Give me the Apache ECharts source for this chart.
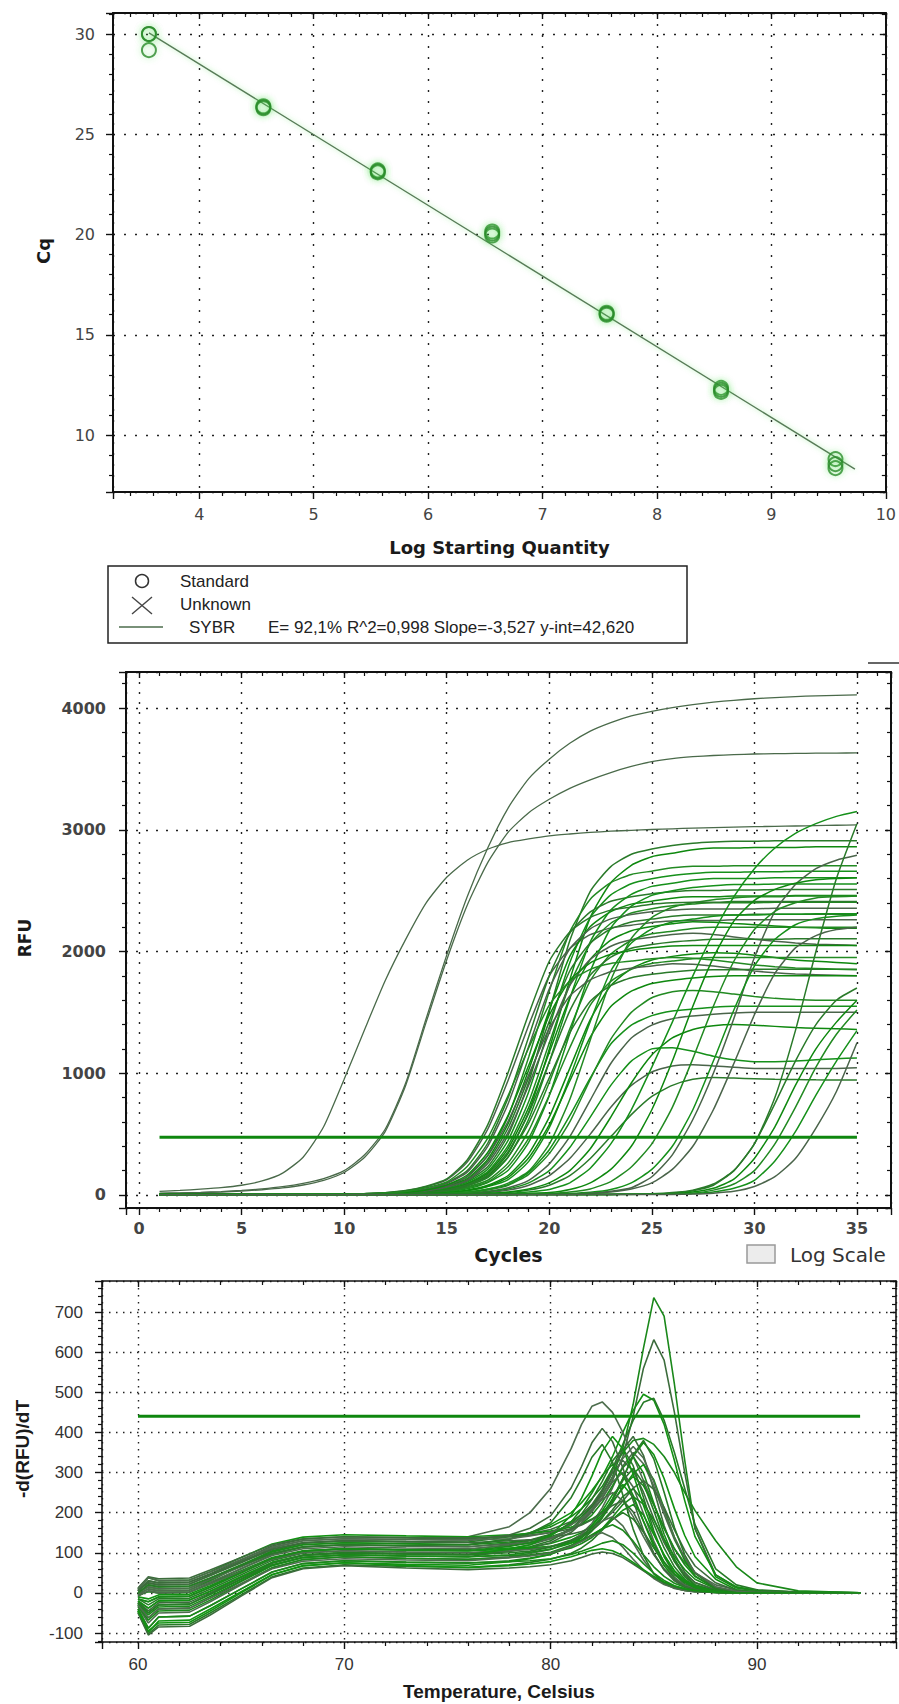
<!DOCTYPE html>
<html><head><meta charset="utf-8">
<script src="https://cdn.jsdelivr.net/npm/echarts@6/dist/echarts.min.js"></script>
<style>html,body{margin:0;padding:0;background:#fff}#c{width:899px;height:1704px}</style>
</head><body><div id="c"></div>
<script>
// ---------- Standard curve ----------
const logQty = [3.56, 4.56, 5.56, 6.56, 7.56, 8.56, 9.56];
const cqRep1 = [30.0, 26.4, 23.2, 20.15, 16.1, 12.35, 8.8];
const cqRep2 = [29.2, 26.3, 23.1, 19.95, 16.0, 12.15, 8.35];
const cqRep3 = [30.0, 26.35, 23.15, 20.05, 16.05, 12.25, 8.55];
const fitX = [3.56, 9.73];
const fitCq = [30.06, 8.30];
const legendTexts = ['Standard', 'Unknown', 'SYBR', 'E= 92,1% R^2=0,998 Slope=-3,527 y-int=42,620'];
const axisTitles = ['Log Starting Quantity', 'Cq', 'Cycles', 'RFU', 'Temperature, Celsius', '-d(RFU)/dT'];

// ---------- Amplification ----------
const cycles = [1,2,3,4,5,6,7,8,9,10,11,12,13,14,15,16,17,18,19,20,21,22,23,24,25,26,27,28,29,30,31,32,33,34,35];
const rfuA = [30,38,48,60,80,115,180,310,560,950,1360,1760,2100,2400,2610,2750,2840,2895,2925,2950,2965,2978,2988,2995,3002,3008,3013,3017,3021,3025,3028,3031,3034,3037,3040];
const rfuB = [15,18,22,28,38,50,68,95,135,200,330,540,920,1450,1970,2450,2850,3180,3420,3580,3710,3810,3880,3935,3972,4003,4028,4048,4063,4076,4086,4094,4100,4104,4107];
const rfuC = [12,15,19,24,32,43,58,82,120,185,310,520,900,1420,1930,2380,2730,2980,3140,3250,3340,3410,3470,3520,3560,3585,3600,3610,3617,3622,3625,3627,3629,3630,3631];
const rfuM01 = [5,5,5,6,6,6,7,7,8,9,10,12,17,29,58,116,232,493,928,1508,2088,2494,2697,2799,2842,2871,2890,2900,2905,2905,2910,2910,2910,2910,2910];
const rfuM02 = [4,4,5,5,5,6,6,7,8,9,10,12,14,23,43,86,157,342,684,1197,1767,2280,2565,2708,2779,2807,2836,2850,2850,2855,2855,2855,2860,2860,2860];
const rfuM03 = [3,3,4,4,5,5,6,7,8,9,11,14,22,41,81,149,324,648,1134,1674,2160,2430,2565,2633,2660,2687,2700,2700,2705,2705,2705,2705,2705,2705,2705];
const rfuM04 = [6,6,6,7,7,7,8,8,9,10,11,13,16,27,53,106,212,451,848,1378,1908,2279,2465,2557,2597,2624,2640,2650,2650,2655,2655,2660,2660,2660,2660];
const rfuM05 = [4,4,4,5,5,5,6,7,8,9,11,18,34,68,124,270,540,945,1395,1800,2025,2138,2194,2216,2239,2250,2255,2255,2260,2260,2260,2260,2260,2260,2260];
const rfuM06 = [2,2,3,3,4,4,5,6,7,8,10,15,25,50,100,200,425,800,1300,1800,2150,2325,2413,2450,2475,2490,2500,2500,2505,2505,2510,2510,2510,2510,2510];
const rfuM07 = [5,5,5,6,6,6,7,7,8,9,10,12,20,37,74,135,294,588,1029,1519,1960,2205,2328,2389,2413,2438,2450,2450,2455,2455,2455,2460,2460,2460,2460];
const rfuM08 = [3,3,3,4,4,5,5,6,7,8,9,11,14,24,48,96,192,408,768,1248,1728,2064,2232,2316,2352,2376,2390,2400,2400,2400,2405,2405,2405,2405,2405];
const rfuM09 = [4,4,4,5,5,5,6,6,7,8,9,11,13,21,39,78,143,312,624,1092,1612,2080,2340,2470,2535,2561,2587,2600,2600,2600,2605,2605,2605,2605,2605];
const rfuM10 = [6,6,6,6,7,7,7,8,8,9,10,14,24,47,94,188,400,752,1222,1692,2021,2186,2268,2303,2327,2340,2350,2350,2350,2350,2355,2355,2355,2355,2355];
const rfuM11 = [2,2,2,3,3,4,4,5,6,7,9,12,18,35,69,127,276,552,966,1426,1840,2070,2185,2243,2266,2289,2300,2300,2300,2305,2305,2305,2305,2305,2305];
const rfuM12 = [5,5,5,5,6,6,6,7,8,9,10,12,14,23,45,90,180,383,720,1170,1620,1935,2093,2171,2205,2228,2245,2240,2230,2220,2210,2200,2195,2190,2190];
const rfuM13 = [3,3,3,4,4,4,5,5,6,7,8,9,11,18,33,66,121,264,528,924,1364,1760,1980,2090,2145,2167,2189,2200,2200,2200,2200,2200,2200,2200,2200];
const rfuM14 = [4,4,4,5,5,5,6,6,7,7,8,9,10,15,26,51,102,204,434,816,1326,1836,2193,2372,2461,2499,2525,2540,2550,2550,2555,2555,2555,2555,2555];
const rfuM15 = [3,3,3,4,4,4,5,6,7,8,9,11,17,32,65,118,258,516,903,1333,1720,1935,2043,2096,2118,2139,2150,2140,2120,2100,2085,2070,2060,2055,2050];
const rfuM16 = [5,5,5,5,6,6,6,7,7,8,9,11,13,21,42,84,168,357,672,1092,1512,1806,1953,2027,2058,2079,2090,2100,2100,2100,2100,2105,2105,2105,2105];
const rfuM17 = [4,4,4,4,5,5,5,6,6,7,8,9,10,12,20,40,80,160,340,640,1040,1440,1720,1860,1930,1960,1980,1990,1985,1970,1950,1930,1920,1910,1900];
const rfuM18 = [2,2,2,3,3,3,4,4,5,6,7,8,10,16,29,59,107,234,468,819,1209,1560,1755,1853,1901,1921,1940,1950,1950,1950,1950,1950,1950,1950,1950];
const rfuM19 = [4,4,4,4,5,5,5,6,6,7,7,8,10,12,18,35,69,127,276,552,966,1426,1840,2070,2185,2243,2266,2289,2300,2300,2305,2305,2310,2310,2310];
const rfuM20 = [3,3,3,4,4,4,5,5,6,7,8,11,19,38,76,152,323,608,988,1368,1634,1767,1834,1862,1881,1900,1895,1880,1860,1840,1825,1815,1810,1805,1800];
const rfuM21 = [4,4,4,5,5,5,6,6,7,8,9,10,11,19,37,74,148,315,592,962,1332,1591,1721,1785,1813,1832,1845,1850,1850,1855,1855,1855,1855,1855,1855];
const rfuM22 = [3,3,3,3,4,4,4,5,5,6,7,8,9,11,18,36,72,144,306,576,936,1296,1548,1674,1737,1764,1782,1795,1800,1800,1800,1800,1800,1800,1800];
const rfuM23 = [3,3,3,4,4,4,5,5,6,6,7,8,9,10,15,25,49,98,196,417,784,1274,1764,2107,2279,2364,2401,2426,2440,2450,2450,2455,2455,2455,2455];
const rfuM24 = [2,2,2,3,3,3,3,4,4,5,5,6,7,8,12,23,47,85,186,372,651,961,1240,1395,1473,1511,1527,1542,1550,1550,1550,1550,1550,1550,1550];
const rfuM25 = [3,3,3,3,4,4,4,4,5,5,6,6,7,8,9,15,30,60,120,255,480,780,1080,1290,1395,1448,1470,1485,1495,1500,1500,1500,1500,1500,1500];
const rfuM26 = [4,4,4,5,5,5,6,7,8,10,12,19,36,72,132,288,576,1008,1488,1920,2160,2280,2340,2364,2388,2400,2405,2405,2410,2410,2410,2410,2410,2410,2410];
const rfuM27 = [5,5,5,5,6,6,6,7,8,9,10,12,21,41,82,164,349,656,1066,1476,1763,1907,1978,2009,2030,2045,2050,2050,2050,2050,2050,2050,2050,2050,2050];
const rfuM28 = [3,3,3,4,4,4,5,6,7,8,10,16,29,59,107,234,468,819,1209,1560,1755,1853,1901,1921,1940,1950,1945,1930,1910,1890,1875,1865,1860,1855,1850];
const rfuH1 = [2,2,2,2,3,3,3,3,4,4,5,5,6,7,8,14,25,50,100,200,390,640,900,1100,1200,1210,1180,1140,1110,1095,1095,1100,1110,1120,1125];
const rfuH2 = [3,3,3,3,3,4,4,4,4,5,5,6,6,7,8,10,20,40,80,160,300,500,720,900,1010,1060,1070,1060,1050,1040,1040,1040,1040,1040,1045];
const rfuH3 = [2,2,2,2,2,3,3,3,3,4,4,4,5,5,6,7,10,20,40,80,160,300,480,660,810,900,950,965,960,955,950,948,946,945,945];
const rfuH4 = [3,3,3,3,3,3,4,4,4,5,5,5,6,7,8,10,14,25,50,100,200,380,640,920,1150,1290,1360,1390,1400,1395,1385,1375,1370,1365,1360];
const rfuH5 = [3,3,3,3,4,4,4,5,5,5,6,6,7,8,10,20,40,80,170,340,600,950,1280,1500,1620,1670,1680,1670,1650,1630,1615,1605,1600,1600,1600];
const rfuL1 = [3,3,3,3,4,4,4,4,5,5,5,6,6,7,7,8,10,15,25,45,100,220,420,700,1050,1420,1800,2150,2450,2680,2850,2970,3050,3110,3150];
const rfuL2 = [2,2,2,2,2,3,3,3,3,3,3,4,4,4,4,5,5,6,6,7,10,15,30,60,150,330,620,1000,1450,1950,2330,2550,2680,2750,2790];
const rfuL3 = [2,2,2,2,2,2,2,2,3,3,3,3,3,3,3,4,4,4,4,5,5,5,6,7,10,20,40,90,200,420,800,1350,2000,2600,3050];
const rfuLM1 = [2,2,2,2,2,2,3,3,3,3,3,4,4,5,5,6,7,9,13,20,45,100,210,400,700,1100,1550,1950,2250,2420,2510,2560,2590,2600,2605];
const rfuLM2 = [3,3,3,3,3,3,3,4,4,4,4,4,5,5,5,6,6,7,8,12,24,50,110,230,420,720,1120,1550,1920,2180,2330,2400,2440,2450,2455];
const rfuLM3 = [2,2,2,2,2,2,2,3,3,3,3,3,3,4,4,4,5,5,6,8,12,22,45,100,210,400,700,1100,1520,1880,2100,2220,2270,2290,2300];
const rfuLM4 = [3,3,3,3,3,3,3,3,3,3,4,4,4,4,4,5,5,5,6,7,9,14,25,50,100,210,400,700,1080,1480,1820,2030,2130,2180,2200];
const rfuV1 = [2,2,2,2,2,2,2,2,2,3,3,3,3,3,3,3,3,4,4,4,4,5,5,6,8,15,35,80,200,420,750,1100,1400,1600,1700];
const rfuV2 = [1,1,1,1,1,2,2,2,2,2,2,2,3,3,3,3,3,3,4,4,4,4,5,6,7,10,25,55,130,300,560,900,1200,1420,1600];
const rfuV3 = [2,2,2,2,2,2,2,2,2,2,3,3,3,3,3,3,3,3,4,4,4,4,5,5,6,8,15,40,90,200,420,720,1050,1320,1520];
const rfuV4 = [3,3,3,3,3,3,3,3,3,3,3,4,4,4,4,4,4,4,4,5,5,5,5,6,6,7,12,25,55,120,280,520,820,1100,1350];
const rfuV5 = [2,2,2,2,2,2,2,2,2,2,2,2,3,3,3,3,3,3,3,3,3,4,4,4,4,5,8,15,30,70,150,300,550,850,1250];
const thrCycles = [1, 35];
const thrRFU = [475, 475];

// ---------- Melt peaks ----------
const meltTemp = [60,60.5,61,62.5,63.5,65,66.5,68,70,73,76,78,79,80,81,81.5,82,82.5,83,83.5,84,84.5,85,85.5,86,86.5,87,88,89,90,92,95];
const mc01 = [-5,3,0,2,22,55,88,105,110,108,108,120,130,145,170,190,215,245,290,360,470,610,736,690,520,330,160,40,12,5,2,0];
const mc02 = [-20,-38,-20,-18,4,40,76,94,100,98,96,110,120,135,160,180,205,235,280,340,440,560,631,580,450,300,160,45,14,5,2,0];
const mc03 = [0,15,10,12,33,68,102,120,125,123,120,135,150,170,200,225,255,290,340,400,455,495,480,420,330,230,140,45,15,6,2,0];
const mc04 = [-30,-62,-40,-38,-13,28,68,88,95,92,90,105,115,130,160,185,215,255,310,370,430,475,485,430,350,260,170,60,20,8,2,0];
const mc05 = [8,25,20,22,43,78,112,130,135,133,140,165,200,260,360,420,465,476,450,400,340,280,220,160,110,75,50,20,8,3,1,0];
const mc06 = [-3,10,5,7,30,68,105,124,130,128,127,140,150,165,190,210,235,265,310,350,380,385,370,340,300,250,205,130,65,25,5,0];
const mc07 = [5,30,25,27,48,82,117,134,140,137,135,142,148,158,178,195,220,257,305,357,390,343,257,168,98,51,25,8,3,1,0,0];
const mc08 = [-15,-22,-10,-8,14,50,86,104,110,107,105,112,114,123,139,150,168,195,235,285,340,375,345,285,210,143,90,34,8,2,0,0];
const mc09 = [-8,5,0,2,24,60,96,114,120,117,115,124,132,146,173,197,233,278,329,360,317,238,155,90,47,22,13,3,1,0,0,0];
const mc10 = [-35,-75,-50,-48,-22,20,62,83,90,86,84,90,98,108,129,147,173,212,262,316,350,322,266,196,133,84,49,14,4,1,0,0];
const mc11 = [0,20,15,17,37,70,103,120,125,122,120,127,131,140,157,172,194,226,267,312,340,299,224,146,85,44,20,5,2,0,0,0];
const mc12 = [-22,-45,-25,-23,0,38,75,94,100,97,95,103,112,125,151,174,208,252,300,330,304,251,185,125,79,46,26,7,2,0,0,0];
const mc13 = [10,38,30,32,53,88,122,139,145,142,140,145,148,154,164,171,184,201,227,261,297,320,282,211,138,80,42,10,2,0,0,0];
const mc14 = [-40,-88,-60,-58,-32,10,52,73,80,76,74,80,87,96,115,131,154,188,232,280,310,273,205,133,78,40,19,5,1,0,0,0];
const mc15 = [-5,10,5,7,27,60,93,110,115,112,110,118,124,135,156,174,202,237,276,300,264,198,129,75,39,18,10,2,0,0,0,0];
const mc16 = [-28,-55,-35,-33,-9,30,69,88,95,92,90,95,101,109,124,138,157,187,224,265,290,267,220,162,110,70,41,12,3,1,0,0];
const mc17 = [5,25,20,22,43,75,108,125,130,127,125,130,132,138,147,153,163,178,201,229,261,280,258,213,157,106,67,25,6,1,0,0];
const mc18 = [-45,-98,-70,-68,-40,3,46,68,75,71,69,78,85,96,118,137,167,204,245,270,238,178,116,68,35,16,9,2,0,0,0,0];
const mc19 = [-15,-30,-15,-13,9,45,81,99,105,102,100,105,110,116,128,139,155,178,207,240,260,229,172,112,65,34,16,4,1,0,0,0];
const mc20 = [0,15,10,12,34,65,98,115,120,117,115,122,127,137,158,181,206,233,250,230,190,140,95,60,35,20,10,3,1,0,0,0];
const mc21 = [-32,-68,-45,-43,-18,23,63,83,90,86,84,88,93,100,112,123,138,160,189,220,240,221,182,134,91,58,34,10,2,0,0,0];
const mc22 = [12,40,35,37,57,88,120,135,140,138,137,140,144,150,160,169,182,199,218,230,202,152,99,58,30,14,7,2,0,0,0,0];
const mc23 = [-10,-15,-5,-3,18,52,86,104,110,107,105,108,112,116,125,132,143,160,183,206,220,194,145,95,55,29,13,3,1,0,0,0];
const mc24 = [-48,-102,-80,-78,-50,-5,40,62,70,66,64,70,76,84,99,112,131,156,183,200,184,152,112,76,48,28,16,4,1,0,0,0];
const mc25 = [-8,5,0,2,23,53,84,100,105,102,100,105,108,115,132,145,161,179,190,167,125,82,48,25,11,6,3,1,0,0,0,0];
const mc26 = [-25,-50,-30,-28,-4,33,70,89,95,92,90,93,95,101,119,130,145,160,170,156,129,95,65,41,24,14,7,2,0,0,0,0];
const mc27 = [5,30,25,27,46,78,109,125,130,128,130,144,161,192,262,315,374,410,377,312,230,156,98,57,33,16,8,2,0,0,0,0];
const mc28 = [-20,-38,-20,-18,4,40,76,94,100,97,95,109,120,144,193,236,291,352,390,359,296,218,148,94,55,31,16,4,1,0,0,0];
const mc29 = [0,20,15,17,37,68,99,115,120,118,120,133,148,175,238,285,338,370,326,244,159,93,48,22,13,6,3,1,0,0,0,0];
const mc30 = [-30,-62,-40,-38,-13,23,60,79,85,82,80,88,92,99,116,128,142,150,138,114,84,57,36,21,12,6,3,1,0,0,0,0];
const mc31 = [-40,-88,-60,-58,-32,10,52,73,80,77,75,78,80,85,96,104,113,124,130,120,99,73,49,31,18,10,5,1,0,0,0,0];
const mc32 = [-50,-105,-85,-83,-55,-8,38,60,68,62,58,62,65,70,80,88,97,102,98,88,72,55,38,25,15,9,5,1,0,0,0,0];
const mc33 = [-45,-95,-75,-73,-45,0,45,67,75,68,63,68,72,78,90,98,106,110,105,93,76,58,41,27,17,10,6,2,0,0,0,0];
const mc34 = [-25,-50,-30,-28,-3,35,74,93,100,97,95,100,104,114,131,142,162,190,232,285,344,380,334,251,163,95,49,11,2,0,0,0];
const mc35 = [10,38,30,32,52,83,114,130,135,133,132,135,142,151,170,186,209,243,287,335,365,336,277,204,139,88,51,15,4,1,0,0];
const mc36 = [-15,-22,-10,-8,14,50,86,104,110,107,105,116,125,142,177,209,249,293,320,294,243,179,122,77,45,26,13,3,1,0,0,0];
const thrTemp = [60, 95];
const thrDeriv = [440, 440];

const ampCurves = [rfuA,rfuB,rfuC,rfuM01,rfuM02,rfuM03,rfuM04,rfuM05,rfuM06,rfuM07,rfuM08,rfuM09,rfuM10,rfuM11,rfuM12,rfuM13,rfuM14,rfuM15,rfuM16,rfuM17,rfuM18,rfuM19,rfuM20,rfuM21,rfuM22,rfuM23,rfuM24,rfuM25,rfuM26,rfuM27,rfuM28,rfuH1,rfuH2,rfuH3,rfuH4,rfuH5,rfuL1,rfuL2,rfuL3,rfuLM1,rfuLM2,rfuLM3,rfuLM4,rfuV1,rfuV2,rfuV3,rfuV4,rfuV5];
const meltCurves = [mc01,mc02,mc03,mc04,mc05,mc06,mc07,mc08,mc09,mc10,mc11,mc12,mc13,mc14,mc15,mc16,mc17,mc18,mc19,mc20,mc21,mc22,mc23,mc24,mc25,mc26,mc27,mc28,mc29,mc30,mc31,mc32,mc33,mc34,mc35,mc36];

// ---------- chart ----------
const chart = echarts.init(document.getElementById('c'), null, {renderer: 'svg'});

function fmtTick(step) {
  return function (v) {
    const r = Math.round(v / step);
    return Math.abs(v - r * step) < step * 1e-6 ? String(+(r * step).toFixed(6)) : '';
  };
}
function axes(dim, gi, min, max, splitNumber, step, cfg) {
  const common = {type: 'value', gridIndex: gi, min: min, max: max, splitNumber: splitNumber};
  const ls = {color: '#111', width: cfg.lw};
  const prim = Object.assign({}, common, {
    position: dim === 'x' ? 'bottom' : 'left',
    axisLine: {show: true, onZero: false, lineStyle: ls},
    axisTick: {show: true, inside: false, length: 7, lineStyle: {color: '#111', width: 1.4}},
    minorTick: {show: true, splitNumber: 5, length: 4, lineStyle: {color: '#111', width: 1.2}},
    axisLabel: {show: true, margin: cfg.margin, color: cfg.color || '#444', fontFamily: cfg.font,
      fontSize: cfg.size, fontWeight: cfg.weight || 'normal', formatter: fmtTick(step)},
    splitLine: {show: true, lineStyle: {color: '#222', width: 1.4, type: cfg.dash}},
    minorSplitLine: {show: false}
  });
  if (cfg.name) {
    Object.assign(prim, {name: cfg.name, nameLocation: 'middle', nameGap: cfg.nameGap,
      nameTextStyle: {fontFamily: cfg.nameFont, fontSize: cfg.nameSize, fontWeight: 'bold', color: '#1a1a1a'}});
  }
  const mir = Object.assign({}, common, {
    position: dim === 'x' ? 'top' : 'right',
    axisLine: {show: true, onZero: false, lineStyle: ls},
    axisTick: {show: true, inside: true, length: 6, lineStyle: {color: '#111', width: 1.4}},
    minorTick: {show: true, splitNumber: 5, length: 4, lineStyle: {color: '#111', width: 1.2}},
    axisLabel: {show: false}, splitLine: {show: false}
  });
  return [prim, mir];
}

const xAxis = [].concat(
  axes('x', 0, 3.246, 10, 7, 1, {lw: 2, margin: 14, font: 'DejaVu Sans', size: 16, dash: [2, 9],
    name: axisTitles[0], nameGap: 46, nameFont: 'DejaVu Sans', nameSize: 18}),
  axes('x', 1, -0.634, 36.66, 7, 5, {lw: 2, margin: 12, font: 'DejaVu Sans', size: 16, weight: 'bold', dash: [2, 8],
    name: axisTitles[2], nameGap: 37, nameFont: 'DejaVu Sans', nameSize: 19}),
  axes('x', 2, 58.255, 96.74, 4, 10, {lw: 1.6, margin: 14, font: 'Liberation Sans', size: 17, color: '#333', dash: [1.5, 5.5],
    name: axisTitles[4], nameGap: 40, nameFont: 'Liberation Sans', nameSize: 19})
);
const yAxis = [].concat(
  axes('y', 0, 7.157, 31.05, 5, 5, {lw: 2, margin: 18, font: 'DejaVu Sans', size: 16, dash: [2, 9]}),
  axes('y', 1, -106.8, 4295.7, 4, 1000, {lw: 2, margin: 20, font: 'DejaVu Sans', size: 16, weight: 'bold', dash: [2, 8]}),
  axes('y', 2, -122.4, 777.3, 9, 100, {lw: 1.6, margin: 19, font: 'Liberation Sans', size: 17, color: '#333', dash: [1.5, 5.5]})
);

const series = [];
series.push({type: 'line', xAxisIndex: 0, yAxisIndex: 0, symbol: 'none', silent: true, z: 3,
  data: fitX.map((x, i) => [x, fitCq[i]]),
  lineStyle: {color: '#587a58', width: 1.4, shadowBlur: 5, shadowColor: 'rgba(90,220,90,0.55)'}});
[cqRep1, cqRep2, cqRep3].forEach(rep => {
  series.push({type: 'scatter', xAxisIndex: 0, yAxisIndex: 0, symbol: 'circle', symbolSize: 14, silent: true, z: 4,
    data: logQty.map((x, i) => [x, rep[i]]),
    itemStyle: {color: 'rgba(255,255,255,0)', borderColor: '#2a882a', borderWidth: 2,
      shadowBlur: 6, shadowColor: 'rgba(80,220,80,0.6)'}});
});
const ampColors = ['#228a22', '#15901a', '#4a644a', '#2a7a2a', '#0e880e'];
ampCurves.forEach((vals, i) => {
  series.push({type: 'line', xAxisIndex: 2, yAxisIndex: 2, symbol: 'none', silent: true, smooth: 0.2, z: 2,
    data: cycles.map((c, j) => [c, vals[j]]),
    lineStyle: {color: i < 3 ? '#4a6a4a' : ampColors[i % 5], width: i < 3 ? 1.3 : 1.5}});
});
series.push({type: 'line', xAxisIndex: 2, yAxisIndex: 2, symbol: 'none', silent: true, z: 5,
  data: thrCycles.map((c, i) => [c, thrRFU[i]]), lineStyle: {color: '#0f870f', width: 3}});
const meltColors = ['#1a881a', '#3c6c3c', '#129212', '#277a27', '#4d6d4d'];
meltCurves.forEach((vals, i) => {
  series.push({type: 'line', xAxisIndex: 4, yAxisIndex: 4, symbol: 'none', silent: true, z: 2,
    data: meltTemp.map((t, j) => [t, vals[j]]),
    lineStyle: {color: meltColors[i % 5], width: 1.6}});
});
series.push({type: 'line', xAxisIndex: 4, yAxisIndex: 4, symbol: 'none', silent: true, z: 5,
  data: thrTemp.map((t, i) => [t, thrDeriv[i]]), lineStyle: {color: '#0f870f', width: 3}});

const legendFont = '17px "Liberation Sans"';
const graphic = [
  {type: 'rect', shape: {x: 108, y: 566, width: 579, height: 77}, style: {fill: '#fff', stroke: '#222', lineWidth: 1.5}},
  {type: 'circle', shape: {cx: 142, cy: 581, r: 6.5}, style: {fill: 'none', stroke: '#333', lineWidth: 1.5}},
  {type: 'line', shape: {x1: 132, y1: 597, x2: 152, y2: 614}, style: {stroke: '#444', lineWidth: 1.4}},
  {type: 'line', shape: {x1: 152, y1: 597, x2: 132, y2: 614}, style: {stroke: '#444', lineWidth: 1.4}},
  {type: 'line', shape: {x1: 119, y1: 627, x2: 163, y2: 627}, style: {stroke: '#4d6d4d', lineWidth: 1.5}},
  {type: 'text', x: 180, y: 581, style: {text: legendTexts[0], font: legendFont, fill: '#222', verticalAlign: 'middle'}},
  {type: 'text', x: 180, y: 604, style: {text: legendTexts[1], font: legendFont, fill: '#222', verticalAlign: 'middle'}},
  {type: 'text', x: 189, y: 627, style: {text: legendTexts[2], font: legendFont, fill: '#222', verticalAlign: 'middle'}},
  {type: 'text', x: 268, y: 627, style: {text: legendTexts[3], font: legendFont, fill: '#222', verticalAlign: 'middle'}},
  {type: 'rect', shape: {x: 747, y: 1245, width: 28, height: 18}, style: {fill: '#ececec', stroke: '#999', lineWidth: 1.5}},
  {type: 'text', x: 790, y: 1255, style: {text: 'Log Scale', font: '20px "DejaVu Sans"', fill: '#333', verticalAlign: 'middle'}},
  {type: 'line', shape: {x1: 868, y1: 663, x2: 899, y2: 663}, style: {stroke: '#333', lineWidth: 1.5}},
  // rotated y-axis titles
  {type: 'text', x: 43, y: 251, rotation: Math.PI / 2,
    style: {text: axisTitles[1], font: 'bold 18px "DejaVu Sans"', fill: '#1a1a1a', align: 'center', verticalAlign: 'middle'}},
  {type: 'text', x: 25, y: 938, rotation: Math.PI / 2,
    style: {text: axisTitles[3], font: 'bold 17px "DejaVu Sans"', fill: '#1a1a1a', align: 'center', verticalAlign: 'middle'}},
  {type: 'text', x: 22, y: 1449, rotation: Math.PI / 2,
    style: {text: axisTitles[5], font: 'bold 19px "Liberation Sans"', fill: '#1a1a1a', align: 'center', verticalAlign: 'middle'}}
];

chart.setOption({
  animation: false,
  backgroundColor: '#fff',
  grid: [
    {left: 113, top: 13, width: 773, height: 479},
    {left: 126, top: 672, width: 765, height: 536},
    {left: 102, top: 1281, width: 794, height: 361}
  ],
  xAxis: xAxis,
  yAxis: yAxis,
  series: series,
  graphic: graphic
});
</script></body></html>
